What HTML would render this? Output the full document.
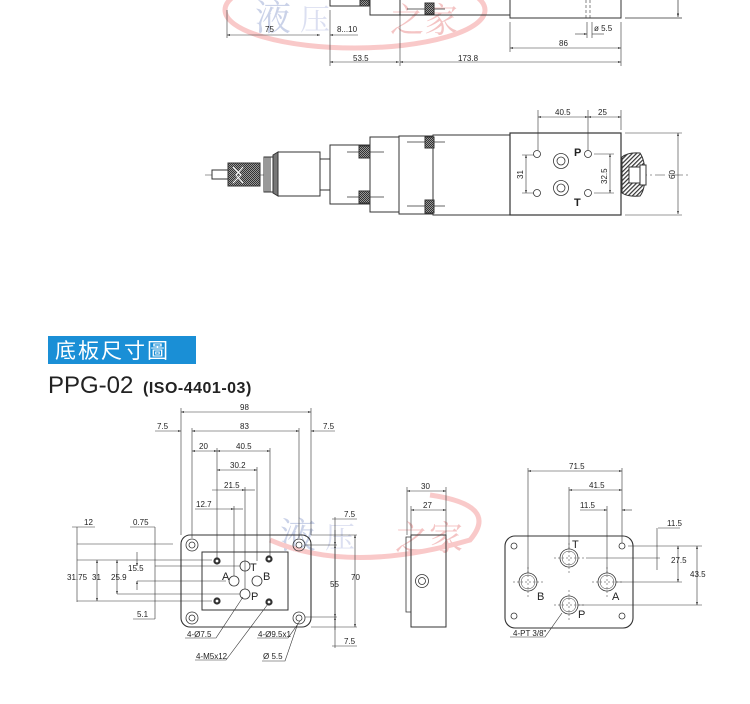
<!DOCTYPE html>
<html><head><meta charset="utf-8"><style>
html,body{margin:0;padding:0;background:#fff}
svg{display:block}
text{font-family:"Liberation Sans",Arial,sans-serif;fill:#222}
.d{font-size:8px}
</style></head><body>
<svg width="750" height="704" viewBox="0 0 750 704" xmlns="http://www.w3.org/2000/svg">
<defs>
<pattern id="hat" width="2" height="2" patternUnits="userSpaceOnUse"><rect width="2" height="2" fill="#999"/><rect width="1" height="1" fill="#333"/><rect x="1" y="1" width="1" height="1" fill="#333"/></pattern>
<pattern id="diag" width="3" height="3" patternUnits="userSpaceOnUse" patternTransform="rotate(45)"><rect width="3" height="3" fill="#fff"/><rect width="1.2" height="3" fill="#333"/></pattern>
<marker id="a" viewBox="0 0 10 10" refX="10" refY="5" markerWidth="5" markerHeight="5" orient="auto-start-reverse"><path d="M0,2L10,5L0,8z" fill="#222"/></marker>
</defs>

<!-- watermarks -->
<g opacity="0.35">
<text x="255" y="30" font-size="36" style="fill:#6a7fc0;font-family:'Noto Serif CJK SC',serif">液</text>
<text x="300" y="30" font-size="30" style="fill:#9aa6d8;font-family:'Noto Serif CJK SC',serif">压</text>
<text x="390" y="32" font-size="34" style="fill:#e25a5a;font-family:'Noto Serif CJK SC',serif">之家</text>
<ellipse cx="355" cy="10" rx="130" ry="38" fill="none" stroke="#e66" stroke-width="5"/>
<text x="280" y="548" font-size="36" style="fill:#6a7fc0;font-family:'Noto Serif CJK SC',serif">液</text>
<text x="325" y="548" font-size="30" style="fill:#9aa6d8;font-family:'Noto Serif CJK SC',serif">压</text>
<text x="395" y="550" font-size="34" style="fill:#e25a5a;font-family:'Noto Serif CJK SC',serif">之家</text>
<path d="M270,540 Q350,575 470,540 Q500,505 430,495" fill="none" stroke="#e66" stroke-width="5"/>
</g>

<g stroke="#333" stroke-width="1" fill="none">
<!-- TOP partial drawing -->
<path d="M330,0V6H370V0M370,6V15H400V0M400,15H510M510,0V18H621V0"/>
<rect x="360" y="0" width="9" height="6" fill="url(#hat)"/>
<rect x="425" y="3" width="9" height="11" fill="url(#hat)"/>
<path d="M407,9H425M434,9H445" stroke-width="0.7"/>
<path d="M586,0V18M590,0V18" stroke-dasharray="3,2" stroke-width="0.6"/>
<path d="M625,18H682M678,0V17" stroke-width="0.7" marker-end="url(#a)"/>
<g stroke-width="0.6">
<path d="M227,10V38M330,10V66M400,15V66M510,22V52M621,22V66M587,22V38M592,22V38"/>
<path d="M227,35H320" marker-start="url(#a)" marker-end="url(#a)"/>
<path d="M330,35H358" marker-start="url(#a)"/>
<path d="M575,34H587" marker-end="url(#a)"/><path d="M592,34H604"/>
<path d="M510,48H621" marker-start="url(#a)" marker-end="url(#a)"/>
<path d="M330,62H399" marker-start="url(#a)" marker-end="url(#a)"/>
<path d="M400,62H621" marker-start="url(#a)" marker-end="url(#a)"/>
</g>

<!-- SECOND drawing -->
<path d="M205,175H690" stroke-dasharray="10,3,2,3" stroke-width="0.6"/>
<rect x="212" y="170" width="16" height="9" fill="#fff"/>
<rect x="228" y="163" width="32" height="23" fill="url(#hat)"/>
<path d="M233,167L241,175L233,183M243,167L236,175L243,183" stroke="#fff"/>
<rect x="264" y="157" width="9" height="35" fill="#fff"/>
<path d="M266,157V192M268,157V192M270,157V192"/>
<path d="M273,155L278,152V196L273,193Z" fill="#777"/>
<rect x="278" y="152" width="42" height="44" fill="#fff"/>
<rect x="320" y="159" width="10" height="31" fill="#fff"/>
<rect x="330" y="145" width="40" height="59" fill="#fff"/>
<rect x="370" y="137" width="29" height="75" fill="#fff"/>
<rect x="399" y="136" width="34" height="78" fill="#fff"/>
<rect x="433" y="135" width="77" height="80" fill="#fff"/>
<rect x="359" y="146" width="11" height="12" fill="url(#hat)"/>
<rect x="359" y="191" width="11" height="12" fill="url(#hat)"/>
<rect x="425" y="137" width="9" height="11" fill="url(#hat)"/>
<rect x="425" y="200" width="9" height="13" fill="url(#hat)"/>
<path d="M347,152H359M370,152H384M347,197H359M370,197H384M407,142H425M434,142H445M407,206H425M434,206H445" stroke-width="0.7"/>
<rect x="510" y="133" width="111" height="82" fill="#fff" stroke-width="1.2"/>
<path d="M622,157Q628,152 640,153Q645,160 645,175Q645,190 640,196Q628,197 622,193Z" fill="url(#diag)"/>
<rect x="629" y="167" width="12" height="16" fill="#fff"/>
<rect x="640" y="165" width="6" height="20" fill="#fff"/>
<g stroke-width="0.8">
<circle cx="537" cy="154" r="3.5"/><circle cx="537" cy="193" r="3.5"/>
<circle cx="588" cy="154" r="3.5"/><circle cx="588" cy="193" r="3.5"/>
<circle cx="561" cy="161" r="7.5"/><circle cx="561" cy="161" r="4"/>
<circle cx="561" cy="188" r="7.5"/><circle cx="561" cy="188" r="4"/>
</g>
<g stroke-width="0.6">
<path d="M538,110V150M588,110V150M621,110V130M625,133H682M625,215H682"/>
<path d="M538,117H588" marker-start="url(#a)" marker-end="url(#a)"/>
<path d="M588,117H621" marker-start="url(#a)" marker-end="url(#a)"/>
<path d="M522,155H534M522,193H534M594,154H614M594,193H614"/>
<path d="M526,155V193" marker-start="url(#a)" marker-end="url(#a)"/>
<path d="M610,154V193" marker-start="url(#a)" marker-end="url(#a)"/>
<path d="M678,133V214" marker-start="url(#a)" marker-end="url(#a)"/>
</g>

<!-- BOTTOM left plate -->
<rect x="181" y="535" width="130" height="92" rx="9" stroke-width="1.1"/>
<rect x="202" y="552" width="86" height="58"/>
<g stroke-width="0.8">
<circle cx="192" cy="545" r="6"/><circle cx="192" cy="545" r="3"/>
<circle cx="299" cy="545" r="6"/><circle cx="299" cy="545" r="3"/>
<circle cx="192" cy="618" r="6"/><circle cx="192" cy="618" r="3"/>
<circle cx="299" cy="618" r="6"/><circle cx="299" cy="618" r="3"/>
<circle cx="245" cy="566" r="5"/><circle cx="234" cy="581" r="5"/><circle cx="257" cy="581" r="5"/><circle cx="245" cy="594" r="5"/>
</g>
<g stroke-width="2.2"><circle cx="217" cy="561" r="2.5"/><circle cx="269" cy="559" r="2.5"/><circle cx="217" cy="601" r="2.5"/><circle cx="269" cy="602" r="2.5"/></g>
<g stroke-width="0.6">
<path d="M181,408V535M311,408V535M192,428V538M299,428V538"/>
<path d="M181,412H311" marker-start="url(#a)" marker-end="url(#a)"/>
<path d="M155,431H181" marker-end="url(#a)"/><path d="M192,431H299" marker-start="url(#a)" marker-end="url(#a)"/><path d="M335,431H311" marker-end="url(#a)"/>
<path d="M217,448V558M270,448V556M257,467V561M245,487V589M234,506V576"/>
<path d="M192,451H217" marker-start="url(#a)" marker-end="url(#a)"/>
<path d="M217,451H270" marker-start="url(#a)" marker-end="url(#a)"/>
<path d="M217,470H257" marker-start="url(#a)" marker-end="url(#a)"/>
<path d="M212,490H245" marker-end="url(#a)"/><path d="M245,490H255"/>
<path d="M195,509H234" marker-end="url(#a)"/><path d="M234,509H243"/>
<path d="M72,527H95M130,527H155M77,527V602M155,527V619M133,619H155"/>
<path d="M77,544H173M77,560H212M155,566H240M137,581H226M117,594H240M77,601H212"/>
<path d="M97,560V601" marker-start="url(#a)" marker-end="url(#a)"/>
<path d="M117,560V594" marker-start="url(#a)" marker-end="url(#a)"/>
<path d="M137,552V566" marker-end="url(#a)"/><path d="M137,590V581" marker-end="url(#a)"/>
<path d="M311,535H357M311,627H357M305,545H337M305,617H337M335,517V648M332,519H357M332,646H357"/>
<path d="M355,535V627" marker-start="url(#a)" marker-end="url(#a)"/>
<path d="M335,530V545" marker-end="url(#a)"/><path d="M335,630V617" marker-end="url(#a)"/>
<path d="M335,545V617" marker-start="url(#a)" marker-end="url(#a)"/>
<path d="M243,597L216,638H185M268,604L226,660H195M300,621L288,638H257M298,623L285,661H262"/>
</g>

<!-- side view -->
<rect x="411" y="535" width="35" height="92" stroke-width="1"/>
<path d="M411,537H406V612H411" stroke-width="0.8"/>
<circle cx="422" cy="581" r="6.5" stroke-width="0.8"/><circle cx="422" cy="581" r="3.5" stroke-width="0.8"/>
<g stroke-width="0.6">
<path d="M407,487V535M446,487V535M411,506V535"/>
<path d="M407,491H446" marker-start="url(#a)" marker-end="url(#a)"/>
<path d="M411,510H446" marker-start="url(#a)" marker-end="url(#a)"/>
</g>

<!-- right plate -->
<rect x="505" y="536" width="128" height="92" rx="10" stroke-width="1.1"/>
<g stroke-width="0.8">
<circle cx="514" cy="546" r="3"/><circle cx="622" cy="546" r="3"/><circle cx="514" cy="616" r="3"/><circle cx="622" cy="616" r="3"/>
<circle cx="569" cy="558" r="9"/><circle cx="528" cy="582" r="9"/><circle cx="607" cy="582" r="9"/><circle cx="569" cy="605" r="9"/>
<circle cx="569" cy="558" r="7" stroke-width="0.5"/><circle cx="528" cy="582" r="7" stroke-width="0.5"/><circle cx="607" cy="582" r="7" stroke-width="0.5"/><circle cx="569" cy="605" r="7" stroke-width="0.5"/>
</g>
<g stroke-width="0.5" stroke-dasharray="2,2">
<path d="M569,543V573M554,558H584M528,567V597M513,582H543M607,567V597M592,582H622M569,590V620M554,605H584"/>
</g>
<g stroke-width="0.6">
<path d="M528,468V573M569,487V549M607,506V573M622,468V543"/>
<path d="M528,471H622" marker-start="url(#a)" marker-end="url(#a)"/>
<path d="M569,490H622" marker-start="url(#a)" marker-end="url(#a)"/>
<path d="M580,510H607" marker-end="url(#a)"/><path d="M632,510H622" marker-end="url(#a)"/>
<path d="M658,528H680M657,528V570M586,558H660M628,546H702M616,582H682M578,605H702"/>
<path d="M678,546V582" marker-start="url(#a)" marker-end="url(#a)"/>
<path d="M697,546V605" marker-start="url(#a)" marker-end="url(#a)"/>
<path d="M562,613L545,637H510"/>
</g>
</g>

<!-- top texts -->
<g class="d">
<text x="265" y="32">75</text>
<text x="337" y="32">8...10</text>
<text x="594" y="31">ø 5.5</text>
<text x="559" y="46">86</text>
<text x="353" y="61">53.5</text>
<text x="458" y="61">173.8</text>
<text x="555" y="115">40.5</text>
<text x="598" y="115">25</text>
<text transform="translate(523,179) rotate(-90)">31</text>
<text transform="translate(607,184) rotate(-90)">32.5</text>
<text transform="translate(675,179) rotate(-90)">60</text>
</g>
<text x="574" y="156" font-size="11" font-weight="bold">P</text>
<text x="574" y="206" font-size="11" font-weight="bold">T</text>

<!-- title -->
<rect x="48" y="336" width="148" height="28" fill="#1a8fd6"/>
<text x="55" y="358" font-size="21" letter-spacing="2" style="fill:#fff;font-family:'Liberation Sans','Noto Sans CJK TC',sans-serif">底板尺寸圖</text>
<text x="48" y="393" font-size="24">PPG-02</text>
<text x="143" y="393" font-size="16" font-weight="bold" letter-spacing="0.5">(ISO-4401-03)</text>

<!-- bottom texts -->
<g class="d">
<text x="240" y="410">98</text>
<text x="157" y="429">7.5</text><text x="240" y="429">83</text><text x="323" y="429">7.5</text>
<text x="199" y="449">20</text><text x="236" y="449">40.5</text>
<text x="230" y="468">30.2</text>
<text x="224" y="488">21.5</text>
<text x="196" y="507">12.7</text>
<text x="84" y="525">12</text><text x="133" y="525">0.75</text>
<text x="67" y="580">31.75</text><text x="92" y="580">31</text><text x="111" y="580">25.9</text><text x="128" y="571">15.5</text>
<text x="137" y="617">5.1</text>
<text x="344" y="517">7.5</text><text x="330" y="587">55</text><text x="351" y="580">70</text><text x="344" y="644">7.5</text>
<text x="187" y="637">4-Ø7.5</text><text x="196" y="659">4-M5x12</text>
<text x="258" y="637">4-Ø9.5x1</text><text x="263" y="659">Ø 5.5</text>
<text x="421" y="489">30</text><text x="423" y="508">27</text>
<text x="569" y="469">71.5</text><text x="589" y="488">41.5</text><text x="580" y="508">11.5</text>
<text x="667" y="526">11.5</text><text x="671" y="563">27.5</text><text x="690" y="577">43.5</text>
<text x="513" y="636">4-PT 3/8"</text>
</g>
<g font-size="11">
<text x="250" y="571">T</text><text x="222" y="580">A</text><text x="263" y="580">B</text><text x="251" y="600">P</text>
<text x="572" y="548">T</text><text x="537" y="600">B</text><text x="612" y="600">A</text><text x="578" y="618">P</text>
</g>
</svg>
</body></html>
